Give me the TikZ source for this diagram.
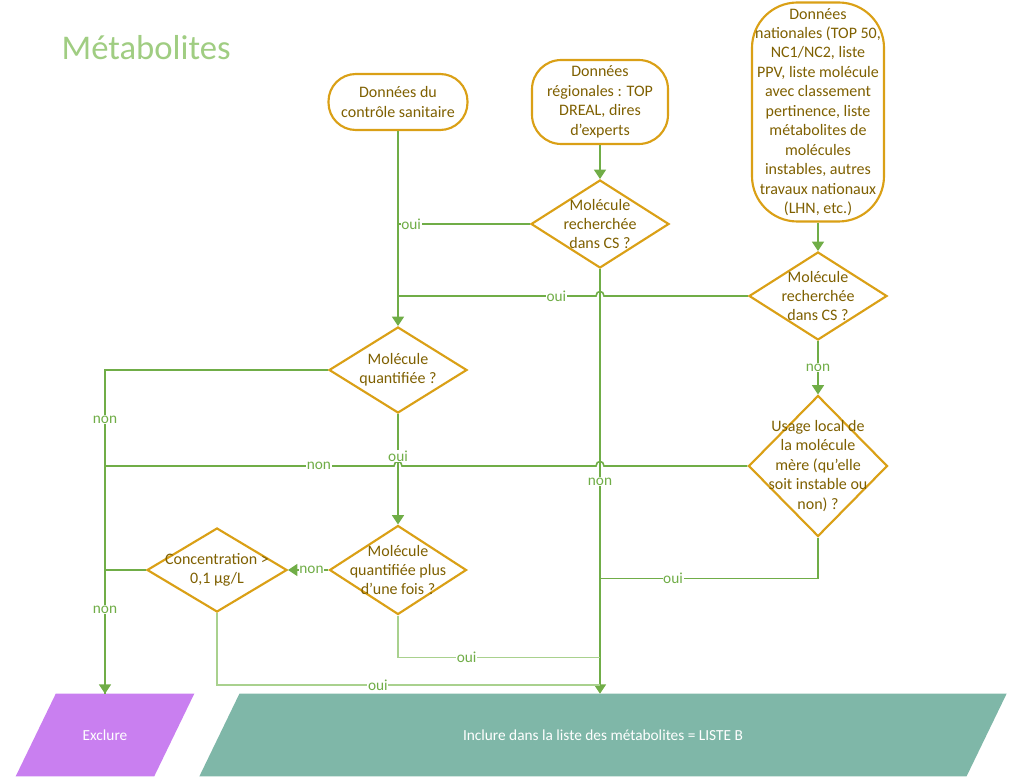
\documentclass[tikz,border=0pt]{standalone}
\usepackage{fontspec}
\setmainfont{Carlito}
\usetikzlibrary{shapes.geometric,arrows.meta,calc,backgrounds}
\definecolor{boxgold}{RGB}{218,160,22}
\definecolor{boxtext}{RGB}{127,96,0}
\definecolor{flowgreen}{RGB}{112,173,71}
\definecolor{lightflow}{RGB}{169,209,142}
\definecolor{titlegreen}{RGB}{160,205,130}
\definecolor{exclcol}{RGB}{201,127,240}
\definecolor{inclcol}{RGB}{127,183,168}
\newcommand\flowtxt{\fontsize{12}{14.6}\selectfont}
\newcommand\flowlbl{\fontsize{11.5}{13}\selectfont}
\newcommand\flowout{\fontsize{11.5}{14}\selectfont}
\begin{document}
\begin{tikzpicture}[x=0.75pt,y=-0.75pt,>={Triangle[length=7pt,width=9pt]},
  source/.style={draw=boxgold,line width=1.6pt,fill=white,text=boxtext,align=center,font=\flowtxt,inner sep=0pt},
  decision/.style={diamond,draw=boxgold,line width=1.6pt,fill=white,inner sep=0pt},
  dtext/.style={text=boxtext,align=center,font=\flowtxt},
  output/.style={minimum height=61.5pt,text=white,font=\flowout,inner sep=0pt},
  flow/.style={draw=flowgreen,line width=1.2pt},
  lbl/.style={fill=white,text=flowgreen,font=\flowlbl,inner sep=0.5pt}]
\useasboundingbox (0,0) rectangle (1011,777);
\node[anchor=west,text=titlegreen,font=\fontsize{26}{30}\selectfont] (title) at (57,48) {Métabolites};

% sources de donnees
\node[source,minimum width=104.25pt,minimum height=42pt,rounded corners=20.5pt] (cs) at (398,102) {Données du\\contrôle sanitaire};
\node[source,minimum width=102pt,minimum height=63pt,rounded corners=22pt] (reg) at (600,102) {Données\\régionales : TOP\\DREAL, dires\\d’experts};
\node[source,minimum width=99pt,minimum height=164.25pt,rounded corners=34pt] (nat) at (818,112) {Données\\nationales (TOP 50,\\NC1/NC2, liste\\PPV, liste molécule\\avec classement\\pertinence, liste\\métabolites de\\molécules\\instables, autres\\travaux nationaux\\(LHN, etc.)};

% decisions
\node[decision,minimum width=103.5pt,minimum height=66pt] (rech1) at (600,224) {};
\node[dtext] (rech1t) at (rech1) {Molécule\\recherchée\\dans CS ?};
\node[decision,minimum width=103.5pt,minimum height=66pt] (rech2) at (818,296) {};
\node[dtext] (rech2t) at (rech2) {Molécule\\recherchée\\dans CS ?};
\node[decision,minimum width=103.5pt,minimum height=64.5pt] (quant) at (398,370) {};
\node[dtext] (quantt) at (quant) {Molécule\\quantifiée ?};
\node[decision,minimum width=104.25pt,minimum height=105.75pt] (usage) at (818,466) {};
\node[dtext] (usaget) at (usage) {Usage local de\\la molécule\\mère (qu’elle\\soit instable ou\\non) ?};
\node[decision,minimum width=102.75pt,minimum height=66.75pt] (plus) at (398,570) {};
\node[dtext] (plust) at (plus) {Molécule\\quantifiée plus\\d’une fois ?};
\node[decision,minimum width=105pt,minimum height=63pt] (conc) at (217,570) {};
\node[dtext] (conct) at (conc) {Concentration >\\0,1 µg/L};

% sorties (parallelogrammes)
\node[output,minimum width=73.5pt] (excl) at (105,735) {Exclure};
\node[output,minimum width=545pt] (incl) at (603,735) {Inclure dans la liste des métabolites = LISTE B};
\begin{scope}[on background layer]
\fill[exclcol] (excl.north west) -- ($(excl.north east)+(40,0)$)
  -- (excl.south east) -- ($(excl.south west)+(-40,0)$) -- cycle;
\fill[inclcol] (incl.north west) -- ($(incl.north east)+(40,0)$)
  -- (incl.south east) -- ($(incl.south west)+(-40,0)$) -- cycle;
\end{scope}

% croisements
\coordinate (j1) at (rech2.west -| rech1.south);
\coordinate (j2) at (usage.west -| rech1.south);
\coordinate (j3) at (usage.west -| cs.south);

\draw[flow,->] (cs.south) -- (quant.north);
\draw[flow] (rech1.west) -- (rech1.west -| cs.south) node[lbl,pos=0.9] {oui};
\draw[flow] (rech2.west) -- ($(j1)+(4,0)$) .. controls +(0,-6) and +(0,-6) .. ($(j1)-(4,0)$)
  -- (rech2.west -| cs.south) node[lbl,pos=0.2] {oui};
\draw[flow,->] (reg.south) -- (rech1.north);
\draw[flow,->] (rech1.south) -- (rech1.south |- incl.north) node[lbl,pos=0.5] {non};
\draw[flow,->] (nat.south) -- (rech2.north);
\draw[flow,->] (rech2.south) -- (usage.north) node[lbl,midway] {non};
\draw[flow] (usage.west) -- ($(j2)+(4,0)$) .. controls +(0,-6) and +(0,-6) .. ($(j2)-(4,0)$)
  -- ($(j3)+(4,0)$) .. controls +(0,-6) and +(0,-6) .. ($(j3)-(4,0)$)
  -- (usage.west -| excl.north) node[lbl,pos=0.26] {non};
\draw[flow] (usage.south) -- ++(0,41) coordinate (u1) -- (u1 -| rech1.south) node[lbl,pos=0.665] {oui};
\draw[flow,->] (quant.west) -| (excl.north) node[lbl,pos=0.577] {non};
\draw[flow,->] (quant.south) -- (plus.north) node[lbl,pos=0.38] {oui};
\draw[flow,->] (plus.west) -- (conc.east) node[lbl,pos=0.42] {non};
\draw[flow] (conc.west) -| (excl.north) node[lbl,pos=0.661] {non};
\draw[flow,draw=lightflow] (plus.south) -- ++(0,42) coordinate (p1) -- (p1 -| rech1.south) node[lbl,pos=0.34] {oui};
\draw[flow,draw=lightflow] (conc.south) -- ++(0,72) coordinate (c1) -- (c1 -| rech1.south) node[lbl,pos=0.42] {oui};
\end{tikzpicture}
\end{document}
